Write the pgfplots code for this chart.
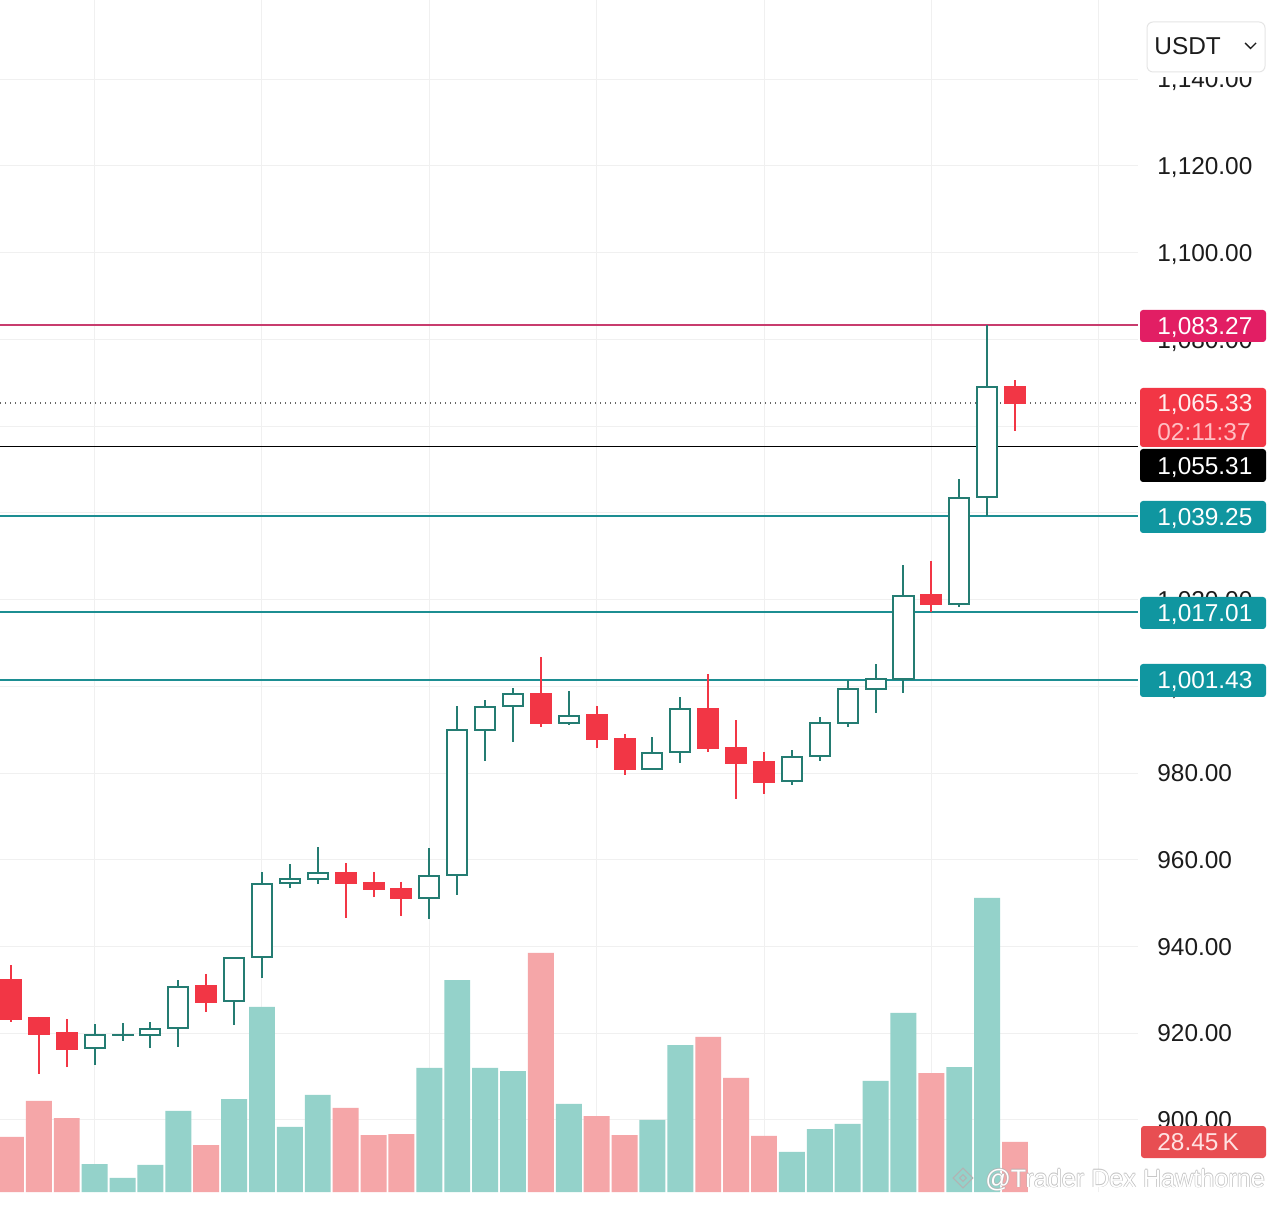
\documentclass[border=0pt]{standalone}
\usepackage{pgfplots}
\pgfplotsset{compat=1.18}
\usepgfplotslibrary{statistics}
\usepackage{fontspec}
\setmainfont{Liberation Sans}
\definecolor{cgreen}{RGB}{36,124,114}
\definecolor{cred}{RGB}{242,54,69}
\definecolor{vgreen}{RGB}{148,210,202}
\definecolor{vred}{RGB}{245,166,168}
\definecolor{gridc}{RGB}{240,240,240}
\definecolor{cmag}{RGB}{226,30,100}
\definecolor{lmag}{RGB}{200,60,110}
\definecolor{cteal}{RGB}{16,150,160}
\definecolor{lteal}{RGB}{28,142,146}
\definecolor{cvred}{RGB}{232,78,82}
\definecolor{tickc}{RGB}{28,28,28}
\newcommand\lbl{\fontsize{12.2}{14}\selectfont}
% #1 index, #2 open, #3 high, #4 low, #5 close
\newcommand\G[5]{\addplot[draw=cgreen, fill=white, line width=1pt, boxplot prepared={draw position=#1, lower whisker=#4, lower quartile=#2, median=#2, upper quartile=#5, upper whisker=#3, box extend=0.72, whisker extend=0}] coordinates {};}
\newcommand\R[5]{\addplot[draw=cred, fill=cred, line width=1pt, boxplot prepared={draw position=#1, lower whisker=#4, lower quartile=#5, median=#5, upper quartile=#2, upper whisker=#3, box extend=0.72, whisker extend=0}] coordinates {};}
\begin{document}
\begin{tikzpicture}
\fill[white] (0,0) rectangle (637pt,602.5pt);
\pgfplotsset{base/.style={scale only axis, width=569pt, height=596pt, at={(0pt,6.5pt)}, anchor=south west, xmin=-0.394, xmax=40.41}}
% grid and price ticks
\begin{axis}[base, ymin=883.38, ymax=1158.28, axis line style={draw=none},
  grid=major, major grid style={gridc, line width=0.5pt},
  xtick={3,9,...,39}, xticklabels={}, ytick={900,920,...,1140},
  yticklabel pos=right, major tick length=0pt, tick style={draw=none},
  yticklabel style={anchor=west, inner sep=0pt, xshift=9.5pt, text height=8.74pt, text depth=0pt, font=\lbl, text=tickc},
  /pgf/number format/.cd, fixed, fixed zerofill, precision=2, 1000 sep={,}, assume math mode=true]
\addplot[draw=none] coordinates {(0,1000)};
\end{axis}
% volume
\begin{axis}[base, ymin=0, ymax=678.2, hide axis, ybar, bar width=0.93]
\addplot[fill=vgreen, draw=none, bar shift=0pt] coordinates {(3,15.9) (4,8.0) (5,15.4) (6,46.1) (8,52.9) (9,105.3) (10,37.0) (11,55.2) (15,70.6) (16,120.6) (17,70.6) (18,68.8) (20,50.1) (23,41.0) (24,83.6) (28,22.8) (29,35.8) (30,38.7) (31,63.2) (32,101.9) (34,71.1) (35,167.3)};
\addplot[fill=vred, draw=none, bar shift=0pt] coordinates {(0,31.3) (1,51.8) (2,42.1) (7,26.7) (12,47.8) (13,32.4) (14,33.0) (19,136.0) (21,43.2) (22,32.4) (25,88.2) (26,64.9) (27,31.9) (33,67.7) (36,28.45)};
\end{axis}
% candles and levels
\begin{axis}[base, ymin=883.38, ymax=1158.28, hide axis, boxplot/draw direction=y]
\addplot[lmag, line width=0.75pt] coordinates {(-0.394,1083.27) (40.41,1083.27)};
\addplot[black!60, line width=0.6pt, dash pattern=on 0.6pt off 1.9pt] coordinates {(-0.394,1065.33) (40.41,1065.33)};
\addplot[black, line width=0.75pt] coordinates {(-0.394,1055.31) (40.41,1055.31)};
\addplot[lteal, line width=0.9pt] coordinates {(-0.394,1039.25) (40.41,1039.25)};
\addplot[lteal, line width=0.9pt] coordinates {(-0.394,1017.06) (40.41,1017.06)};
\addplot[lteal, line width=0.9pt] coordinates {(-0.394,1001.43) (40.41,1001.43)};
\R{0}{932.3}{935.7}{922.6}{923.3}
\R{1}{923.5}{923.8}{910.6}{919.8}
\R{2}{920.0}{923.3}{912.2}{916.4}
\G{3}{916.6}{922.1}{912.7}{919.6}
\G{4}{919.5}{922.4}{918.2}{919.7}
\G{5}{919.6}{922.6}{916.6}{921.0}
\G{6}{921.2}{932.3}{916.8}{930.7}
\R{7}{930.9}{933.7}{924.9}{927.2}
\G{8}{927.4}{937.6}{921.9}{937.3}
\G{9}{937.6}{957.2}{932.7}{954.4}
\G{10}{954.7}{959.0}{953.5}{955.6}
\G{11}{955.6}{962.9}{954.4}{956.9}
\R{12}{956.9}{959.3}{946.6}{954.7}
\R{13}{954.7}{957.2}{951.4}{953.3}
\R{14}{953.3}{954.9}{947.0}{951.2}
\G{15}{951.2}{962.7}{946.3}{956.3}
\G{16}{956.5}{995.5}{951.9}{989.9}
\G{17}{989.9}{996.8}{982.8}{995.2}
\G{18}{995.5}{999.6}{987.2}{998.2}
\R{19}{998.2}{1006.8}{990.6}{991.5}
\G{20}{991.5}{998.9}{991.1}{993.2}
\R{21}{993.4}{995.5}{985.8}{987.9}
\R{22}{987.9}{989.0}{979.6}{981.0}
\G{23}{981.0}{988.3}{980.9}{984.6}
\G{24}{984.9}{997.5}{982.3}{994.8}
\R{25}{994.8}{1002.8}{984.9}{985.8}
\R{26}{985.8}{992.2}{974.0}{982.3}
\R{27}{982.5}{984.9}{975.2}{977.9}
\G{28}{978.1}{985.3}{977.2}{983.6}
\G{29}{983.9}{992.9}{982.8}{991.5}
\G{30}{991.5}{1001.5}{990.6}{999.4}
\G{31}{999.4}{1005.1}{993.9}{1001.7}
\G{32}{1001.7}{1028.0}{998.5}{1020.8}
\R{33}{1021.1}{1028.9}{1017.1}{1019.0}
\G{34}{1019.0}{1047.8}{1018.3}{1043.4}
\G{35}{1043.6}{1083.27}{1039.25}{1069.0}
\R{36}{1069.0}{1070.6}{1058.9}{1065.33}
\end{axis}
% right-hand labels
\tikzset{lab/.style={anchor=base west, inner sep=0pt, font=\lbl, text=white}}
\fill[cmag, rounded corners=1.5pt] (570pt,447.5pt) rectangle (633pt,431.5pt);
\node[lab] at (578.5pt,435.1pt) {1,083.27};
\fill[cred, rounded corners=1.5pt] (570pt,408.5pt) rectangle (633pt,379pt);
\node[lab, text={rgb,255:red,255;green,238;blue,238}] at (578.5pt,396.6pt) {1,065.33};
\node[lab, text={rgb,255:red,255;green,190;blue,195}] at (578.5pt,382.4pt) {02:11:37};
\fill[black, rounded corners=1.5pt] (570pt,378pt) rectangle (633pt,361.5pt);
\node[lab] at (578.5pt,365.4pt) {1,055.31};
\fill[cteal, rounded corners=1.5pt] (570pt,352pt) rectangle (633pt,336pt);
\node[lab] at (578.5pt,339.6pt) {1,039.25};
\fill[cteal, rounded corners=1.5pt] (570pt,304pt) rectangle (633pt,288pt);
\node[lab] at (578.5pt,291.6pt) {1,017.01};
\fill[cteal, rounded corners=1.5pt] (570pt,270.5pt) rectangle (633pt,254pt);
\node[lab] at (578.5pt,258.1pt) {1,001.43};
\fill[cvred, rounded corners=1.5pt] (570.5pt,39.5pt) rectangle (633pt,23.5pt);
\node[lab, text={rgb,255:red,255;green,225;blue,225}] at (578.5pt,27.1pt) {28.45\,K};
% currency selector
\fill[white] (573pt,564pt) rectangle (633pt,567pt);
\filldraw[fill=white, draw=black!10, line width=0.5pt, rounded corners=3pt] (573.5pt,591.5pt) rectangle (632.5pt,566.5pt);
\node[anchor=base west, inner sep=0pt, font=\lbl, text=tickc] at (577pt,575.1pt) {USDT};
\draw[tickc, line width=0.7pt] (622.5pt,581pt) -- (625.25pt,578.25pt) -- (628pt,581pt);
% watermark
\begin{scope}[every node/.style={anchor=base west, inner sep=0pt, font=\fontsize{12.6}{14}\selectfont}]
\foreach \dx/\dy in {0.35/0,-0.35/0,0/0.35,0/-0.35} {
  \node[text=black!30, opacity=0.7] at ({492.5pt+\dx pt},{9pt+\dy pt}) {@Trader Dex Hawthorne};
}
\node[text=white] at (492.5pt,9pt) {@Trader Dex Hawthorne};
\draw[black!30, line width=0.5pt, rotate around={45:(481.5pt,13.5pt)}] (478pt,10pt) rectangle (485pt,17pt);
\draw[black!30, line width=0.5pt, rotate around={45:(481.5pt,13.5pt)}] (480.3pt,12.3pt) rectangle (482.7pt,14.7pt);
\end{scope}
\pgfresetboundingbox
\path[use as bounding box] (0,0) rectangle (637pt,602.5pt);
\end{tikzpicture}
\end{document}
